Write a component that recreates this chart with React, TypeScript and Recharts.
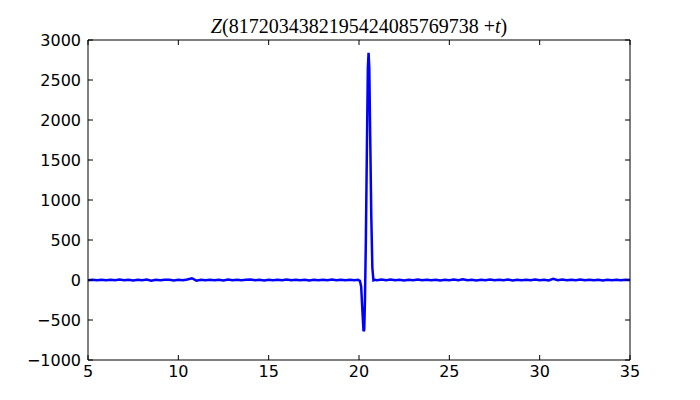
import React from 'react';
import { LineChart, Line, XAxis, YAxis } from 'recharts';

// t offsets and Z values
const tValues = [
  5, 5.25, 5.5, 5.75, 6, 6.25, 6.5, 6.75, 7, 7.25, 7.5, 7.75, 8, 8.25, 8.5, 8.75,
  9, 9.25, 9.5, 9.75, 10, 10.25, 10.5, 10.75, 11, 11.25, 11.5, 11.75, 12, 12.25,
  12.5, 12.75, 13, 13.25, 13.5, 13.75, 14, 14.25, 14.5, 14.75, 15, 15.25, 15.5,
  15.75, 16, 16.25, 16.5, 16.75, 17, 17.25, 17.5, 17.75, 18, 18.25, 18.5, 18.75,
  19, 19.25, 19.5, 19.75, 19.95, 20.05, 20.12, 20.18, 20.25, 20.29, 20.33, 20.38,
  20.44, 20.49, 20.53, 20.57, 20.62, 20.68, 20.74, 20.8, 20.9, 21, 21.25, 21.5,
  21.75, 22, 22.25, 22.5, 22.75, 23, 23.25, 23.5, 23.75, 24, 24.25, 24.5, 24.75,
  25, 25.25, 25.5, 25.75, 26, 26.25, 26.5, 26.75, 27, 27.25, 27.5, 27.75, 28,
  28.25, 28.5, 28.75, 29, 29.25, 29.5, 29.75, 30, 30.25, 30.5, 30.75, 31, 31.25,
  31.5, 31.75, 32, 32.25, 32.5, 32.75, 33, 33.25, 33.5, 33.75, 34, 34.25, 34.5,
  34.75, 35,
];

const zValues = [
  -3, 2, -4, 3, -2, 4, -3, 5, -2, 3, -5, 4, -2, 5, -8, 3,
  -3, 2, 4, -5, 3, -3, 6, 22, -8, 3, -2, 4, -4, 3,
  -5, 6, -2, 3, -4, 2, 5, -3, 2, -5, 4, -2, 3,
  -4, 5, -3, 3, -2, 4, -5, 3, -3, 4, -2, 5, -4,
  3, -3, 2, -2, 2, -10, -80, -350, -640, -620, -250, 500,
  1700, 2650, 2840, 2650, 1800, 800, 150, -5, 3, -4, 6, -2,
  5, -4, 3, -5, 3, -2, 6, -3, 4, -3, 4, -6, 3,
  -2, 5, -4, 10, -3, 3, -5, 4, -2, 5, -3, 4, -3,
  5, -6, 3, -2, 4, -4, 6, -3, 3, -5, 14, -3, 5,
  -4, 3, -2, 5, -4, 3, -3, 4, -5, 2, -3, 4, -3,
  2, 1,
];

const xTicks = [5, 10, 15, 20, 25, 30, 35];
const yTicks = [-1000, -500, 0, 500, 1000, 1500, 2000, 2500, 3000];

const data = tValues.map((t, i) => ({ t, z: zValues[i] }));

const fmt = (v: number) => (v < 0 ? '\u2212' + Math.abs(v) : String(v));
const axisLine = { stroke: '#000', strokeWidth: 1 };
const TICK = 5;

// matplotlib classic style: ticks point into the plot
const BottomTick = ({ x, y, payload }: any) => (
  <g>
    <line x1={x} x2={x} y1={y} y2={y - TICK} stroke="#000" />
    <text x={x} y={y + 17} textAnchor="middle" fontSize={16} fontFamily="DejaVu Sans" fill="#000">
      {fmt(payload.value)}
    </text>
  </g>
);
const TopTick = ({ x, y }: any) => <line x1={x} x2={x} y1={y} y2={y + TICK} stroke="#000" />;
const LeftTick = ({ x, y, payload }: any) => (
  <g>
    <line x1={x} x2={x + TICK} y1={y} y2={y} stroke="#000" />
    <text x={x - 7} y={y} dy="0.36em" textAnchor="end" fontSize={16} fontFamily="DejaVu Sans" fill="#000">
      {fmt(payload.value)}
    </text>
  </g>
);
const RightTick = ({ x, y }: any) => <line x1={x} x2={x - TICK} y1={y} y2={y} stroke="#000" />;

export default function App() {
  return (
    <div style={{ position: 'absolute', left: 0, top: 0, width: 700, height: 400, background: '#fff' }}>
      <svg width={700} height={40} style={{ position: 'absolute', left: 0, top: 0 }}>
        <text x={359} y={33} textAnchor="middle" fontSize={20} fontFamily="Liberation Serif" fill="#000">
          <tspan fontStyle="italic">Z</tspan>
          <tspan>(8172034382195424085769738 +</tspan>
          <tspan fontStyle="italic">t</tspan>
          <tspan>)</tspan>
        </text>
      </svg>
      <LineChart width={700} height={400} data={data} margin={{ top: 39, right: 69, left: 0, bottom: 0 }}>
        <XAxis
          xAxisId="bottom"
          dataKey="t"
          type="number"
          domain={[5, 35]}
          ticks={xTicks}
          allowDataOverflow
          height={40}
          tickSize={0}
          tickMargin={0}
          tickLine={false}
          tick={<BottomTick />}
          axisLine={axisLine}
        />
        <XAxis
          xAxisId="top"
          orientation="top"
          dataKey="t"
          type="number"
          domain={[5, 35]}
          ticks={xTicks}
          allowDataOverflow
          height={1}
          tickSize={0}
          tickMargin={0}
          tickLine={false}
          tick={<TopTick />}
          axisLine={axisLine}
        />
        <YAxis
          yAxisId="left"
          type="number"
          domain={[-1000, 3000]}
          ticks={yTicks}
          allowDataOverflow
          width={88}
          tickSize={0}
          tickMargin={0}
          tickLine={false}
          tick={<LeftTick />}
          axisLine={axisLine}
        />
        <YAxis
          yAxisId="right"
          orientation="right"
          type="number"
          domain={[-1000, 3000]}
          ticks={yTicks}
          allowDataOverflow
          width={1}
          tickSize={0}
          tickMargin={0}
          tickLine={false}
          tick={<RightTick />}
          axisLine={axisLine}
        />
        <Line
          xAxisId="top"
          yAxisId="right"
          type="linear"
          dataKey="z"
          stroke="none"
          dot={false}
          isAnimationActive={false}
        />
        <Line
          xAxisId="bottom"
          yAxisId="left"
          type="linear"
          dataKey="z"
          stroke="#0000ff"
          strokeWidth={2.5}
          dot={false}
          isAnimationActive={false}
        />
      </LineChart>
    </div>
  );
}
